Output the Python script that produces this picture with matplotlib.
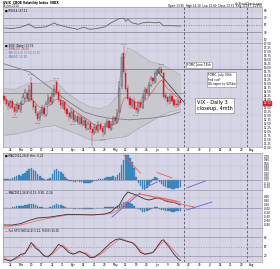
import numpy as np
import pandas as pd
import matplotlib
matplotlib.use("Agg")
import matplotlib.pyplot as plt

# ---------------- data ----------------
opens = [14.20, 14.00, 13.75, 13.50, 13.85, 13.50, 13.25, 13.65, 13.30, 13.70,
         14.05, 14.40, 13.95, 15.00, 13.90, 13.55, 13.10, 12.80, 13.10, 13.45,
         13.00, 13.75, 14.10, 13.75, 14.25, 15.05, 14.45, 13.95, 13.55, 13.80,
         13.35, 13.10, 12.85, 13.25, 12.65, 12.95, 12.50, 12.85, 12.40, 12.70,
         12.15, 12.50, 12.15, 11.90, 12.30, 12.00, 12.45, 12.20, 11.90, 12.35,
         12.60, 12.15, 12.50, 12.85, 12.55, 13.20, 14.80, 16.85, 15.60, 14.70,
         14.05, 13.55, 13.90, 13.45, 13.25, 13.80, 13.45, 14.05, 14.60, 14.30,
         14.85, 15.30, 15.05, 15.55, 15.70, 15.90, 15.60, 14.25, 14.10, 13.85,
         14.20, 13.95, 13.70, 13.60, 13.95]
highs = [14.45, 14.10, 13.90, 13.95, 14.00, 13.60, 13.80, 13.75, 13.90, 14.30,
         14.60, 14.50, 14.85, 15.40, 14.05, 13.70, 13.25, 13.30, 13.60, 13.55,
         13.90, 14.30, 14.20, 14.50, 14.90, 15.20, 14.55, 14.10, 13.95, 13.90,
         13.50, 13.20, 13.45, 13.35, 13.05, 13.10, 13.00, 12.95, 12.85, 12.80,
         12.65, 12.60, 12.30, 12.45, 12.40, 12.60, 12.55, 12.30, 12.50, 12.75,
         12.70, 12.65, 12.95, 12.95, 13.35, 15.10, 16.90, 17.30, 15.80, 14.85,
         14.20, 14.00, 14.10, 13.60, 13.90, 13.95, 14.30, 14.75, 14.70, 15.05,
         15.45, 15.40, 15.75, 15.90, 16.00, 16.05, 15.70, 14.45, 14.20, 14.30,
         14.30, 14.05, 14.00, 14.05, 14.10]
lows = [13.70, 13.55, 13.30, 13.35, 13.30, 12.95, 13.15, 13.20, 13.15, 13.60,
        13.90, 13.85, 13.80, 13.80, 13.30, 12.95, 12.55, 12.60, 12.95, 12.90,
        12.85, 13.60, 13.65, 13.60, 14.10, 14.25, 13.80, 13.40, 13.40, 13.15,
        12.90, 12.60, 12.75, 12.50, 12.55, 12.40, 12.35, 12.25, 12.30, 12.00,
        12.05, 11.90, 11.05, 11.75, 11.85, 11.85, 12.00, 11.60, 11.75, 12.20,
        12.05, 12.00, 12.35, 12.40, 12.45, 13.10, 14.60, 15.55, 14.45, 13.85,
        13.40, 13.45, 13.30, 13.10, 13.05, 13.35, 13.35, 13.95, 14.20, 14.20,
        14.75, 14.95, 14.95, 15.45, 15.60, 15.55, 14.00, 13.90, 13.65, 13.70,
        13.75, 13.50, 13.45, 13.50, 13.60]
closes = [13.95, 13.70, 13.55, 13.80, 13.45, 13.20, 13.60, 13.35, 13.75, 14.10,
          14.35, 14.00, 14.55, 13.95, 13.50, 13.10, 12.75, 13.15, 13.40, 13.05,
          13.70, 14.05, 13.80, 14.30, 14.65, 14.40, 13.95, 13.60, 13.75, 13.30,
          13.05, 12.85, 13.20, 12.70, 12.90, 12.55, 12.80, 12.45, 12.65, 12.20,
          12.45, 12.10, 11.85, 12.25, 12.05, 12.40, 12.15, 11.95, 12.30, 12.55,
          12.20, 12.45, 12.80, 12.60, 13.10, 14.70, 16.60, 15.70, 14.60, 14.00,
          13.60, 13.85, 13.40, 13.30, 13.75, 13.50, 14.10, 14.55, 14.35, 14.90,
          15.25, 15.10, 15.60, 15.75, 15.85, 15.65, 14.15, 14.05, 13.80, 14.15,
          13.90, 13.65, 13.60, 13.90, 13.72]

bb_idx = [0, 5, 12, 17, 24, 29, 35, 41, 46, 50, 54, 56, 59, 62, 70, 74, 79, 84]
bb_upper = [14.65, 14.60, 15.00, 14.96, 15.20, 14.50, 13.90, 13.50, 13.40, 13.60,
            14.20, 16.00, 17.20, 17.00, 16.30, 16.20, 15.90, 15.50]
bb_lower = [11.74, 11.80, 12.00, 12.20, 12.35, 12.10, 11.80, 11.45, 11.40, 11.50,
            11.60, 11.60, 11.70, 12.00, 12.60, 12.90, 13.20, 13.35]

ma50_idx = [0, 12, 20, 30, 38, 44, 50, 60, 70, 78, 84]
ma50 = [16.20, 15.70, 14.90, 13.90, 13.20, 12.95, 12.80, 12.70, 12.80, 12.95, 13.20]

red_level = 15.90
blue_level = 14.35
trend_x = [72.9, 86.2]
trend_y = [15.77, 13.72]

rsi_idx = [0, 4, 8, 12, 13, 15, 20, 24, 25, 30, 35, 38, 41, 45, 48, 51, 55, 57,
           58, 59, 61, 64, 66, 69, 72, 74, 76, 80, 84]
rsi = [42, 40, 44, 53, 48, 42, 45, 56, 52, 44, 38, 44, 38, 41, 45, 56, 68, 69,
       60, 66, 56, 52, 56, 58, 56, 58, 48, 48, 47]

hist1 = [0.02, 0.03, 0.02, 0.04, 0.06, 0.09, 0.12, 0.15, 0.12, 0.18,
         0.21, 0.27, 0.33, 0.36, 0.30, 0.27, 0.18, 0.12, 0.06, 0.02,
         0.01, 0.03, 0.06, 0.18, 0.30, 0.33, 0.27, 0.24, 0.18, 0.09,
         0.03, -0.02, -0.03, -0.05, -0.06, -0.04, -0.05, -0.06, -0.09, -0.10,
         -0.09, -0.09, -0.06, -0.04, -0.02, 0.02, 0.03, 0.04, 0.06, 0.08,
         0.09, 0.10, 0.12, 0.10, 0.14, 0.21, 0.45, 0.60, 0.74, 0.74,
         0.66, 0.54, 0.36, 0.10, -0.09, -0.18, -0.27, -0.30, -0.24, -0.15,
         -0.06, 0.03, 0.09, 0.05, -0.06, -0.12, -0.18, -0.21, -0.24, -0.24,
         -0.27, -0.27, -0.24, -0.24, -0.21]
hist2 = [0.02, 0.02, 0.02, 0.02, 0.04, 0.06, 0.08, 0.10, 0.09, 0.12,
         0.14, 0.17, 0.20, 0.22, 0.19, 0.16, 0.11, 0.07, 0.04, 0.01,
         0.01, 0.02, 0.04, 0.10, 0.17, 0.19, 0.16, 0.14, 0.10, 0.05,
         0.02, -0.01, -0.02, -0.03, -0.03, -0.02, -0.03, -0.04, -0.05, -0.06,
         -0.05, -0.05, -0.04, -0.02, -0.01, 0.01, 0.02, 0.02, 0.03, 0.04,
         0.05, 0.06, 0.07, 0.06, 0.08, 0.12, 0.22, 0.28, 0.32, 0.30,
         0.25, 0.18, 0.10, 0.02, -0.06, -0.12, -0.18, -0.20, -0.16, -0.10,
         -0.04, 0.02, 0.06, 0.04, -0.04, -0.08, -0.12, -0.14, -0.16, -0.16,
         -0.18, -0.18, -0.16, -0.16, -0.14]

macd_idx = [0, 4, 8, 12, 16, 22, 30, 36, 42, 48, 51, 53, 55, 57, 59, 61, 63, 65,
            67, 69, 71, 73, 75, 77, 79, 81, 84]
macd = [-0.85, -0.85, -0.78, -0.62, -0.50, -0.45, -0.32, -0.33, -0.35, -0.30,
        -0.20, 0.00, 0.15, 0.55, 0.80, 0.72, 0.65, 0.55, 0.45, 0.40, 0.45, 0.50,
        0.45, 0.35, 0.30, 0.28, 0.15]
sig_idx = [0, 8, 17, 30, 45, 51, 55, 57, 60, 62, 65, 70, 75, 80, 84]
sig = [-0.95, -0.85, -0.60, -0.35, -0.33, -0.28, -0.05, 0.15, 0.45, 0.62, 0.70,
       0.60, 0.50, 0.40, 0.30]

stk_idx = [0, 3, 6, 8, 10, 13, 15, 17, 19, 21, 23, 26, 28, 31, 33, 36, 39, 41,
           43, 46, 48, 51, 53, 55, 57, 59, 61, 63, 65, 67, 69, 71, 73, 75, 76,
           77, 79, 81, 83, 84]
stk_k = [9, 3, 15, 25, 28, 63, 45, 35, 20, 16, 30, 57, 50, 30, 25, 35, 25, 14,
         16, 30, 44, 63, 72, 75, 70, 66, 63, 50, 31, 25, 28, 31, 50, 69, 72,
         62, 45, 25, 10, 5]
std_idx = [0, 3, 6, 9, 12, 14, 16, 18, 20, 23, 26, 28, 30, 33, 36, 39, 41, 43,
           46, 49, 52, 54, 56, 58, 60, 62, 64, 66, 68, 70, 72, 74, 76, 78, 80,
           82, 84]
stk_d = [15, 5, 10, 22, 45, 58, 45, 28, 18, 25, 45, 55, 42, 27, 30, 30, 20, 14,
         25, 42, 58, 70, 75, 70, 65, 60, 45, 30, 25, 28, 38, 55, 66, 60, 45,
         28, 15]

# hand drawn annotation lines (index, value)
p1_red = [([57, 65], [0.74, 0.20]), ([73, 80], [0.22, 0.06])]
p1_blue = [([67, 73], [-0.24, -0.06]), ([87, 96], [-0.24, -0.03])]
p2_red = [([65, 90], [0.70, 0.05]), ([73, 83], [0.55, 0.30])]
p2_blue = [([51.4, 64.8], [-0.45, 0.75]), ([87, 99], [-0.10, 0.30])]

fomc_days = [85.7, 115.7]
start_date = "2014-02-19"
n_slots = 123

# ---------------- styling ----------------
BG = "#d5d5e6"
GRID = "#c3c3d6"
RED = "#d9202c"
BLUE = "#3b8fc6"
W, H = 280, 269

fig = plt.figure(figsize=(W / 100, H / 100), dpi=100)
fig.patch.set_facecolor("white")


def rect(x0, y0, x1, y1):
    return [x0 / W, 1 - y1 / H, (x1 - x0) / W, (y1 - y0) / H]


dates = pd.bdate_range(start_date, periods=n_slots)
tick_pos = [i for i, d in enumerate(dates) if d.weekday() == 0]
tick_lab = [d.strftime("%b") if d.day <= 7 else str(d.day)
            for d in dates if d.weekday() == 0]
xlim = (-0.5, 122.9)
n = len(closes)
x = np.arange(n)


def style(ax, yticks, fmt, grid_y, show_dates=False):
    ax.set_facecolor(BG)
    ax.set_xlim(*xlim)
    ax.set_xticks(tick_pos)
    ax.set_yticks(yticks)
    ax.yaxis.tick_right()
    ax.set_yticklabels([fmt % v for v in yticks])
    ax.grid(True, axis="x", color=GRID, lw=0.35)
    for g in grid_y:
        ax.axhline(g, color=GRID, lw=0.35, zorder=0)
    ax.set_axisbelow(True)
    ax.tick_params(length=0, labelsize=2.0, pad=1)
    if show_dates:
        ax.set_xticklabels(tick_lab, fontsize=2.0)
        ax.tick_params(axis="x", pad=0.6)
    else:
        ax.set_xticklabels([])
    for s in ax.spines.values():
        s.set_color("#8a8a9a")
        s.set_linewidth(0.4)
    for d in fomc_days:
        ax.axvline(d, color="#555560", lw=0.6, ls=(0, (3, 2)))


# ---- RSI panel ----
ax0 = fig.add_axes(rect(3, 7, 262, 43))
ax0.set_ylim(0, 100)
style(ax0, [10, 30, 50, 70, 90], "%d", [10, 90])
ax0.axhline(70, color="#777788", lw=0.45)
ax0.axhline(30, color="#777788", lw=0.45)
ax0.axhline(50, color="#777788", lw=0.45, ls=(0, (2, 2)))
ax0.plot(rsi_idx, rsi, color="#666666", lw=0.6)
ax0.text(0.3, 96, "\u25a0 RSI(14) 47.12", fontsize=2.0, va="top")

# ---- price panel ----
ax1 = fig.add_axes(rect(3, 43, 262, 147))
ax1.set_ylim(11.0, 17.5)
style(ax1, np.arange(11.0, 17.51, 0.25), "%.2f", [12, 13, 14, 15, 16, 17],
      show_dates=True)
ax1.fill_between(bb_idx, bb_lower, bb_upper, color="#c7c9ce", lw=0)
ax1.plot(bb_idx, bb_upper, color="#a2a2ae", lw=0.4)
ax1.plot(bb_idx, bb_lower, color="#a2a2ae", lw=0.4)
ax1.plot(ma50_idx, ma50, color="#7d7d85", lw=0.6)
ax1.axhline(red_level, color="#f05a5a", lw=0.7)
ax1.plot([0, 86], [blue_level, blue_level], color="#7f88b0", lw=0.6)
ema = pd.Series(closes).ewm(span=10, adjust=False).mean()
ax1.plot(x, ema, color="#e05050", lw=0.45)

prev = [opens[0]] + closes[:-1]
for i in range(n):
    col = RED if closes[i] < prev[i] else "#111111"
    ax1.vlines(i, lows[i], highs[i], color=col, lw=0.3, zorder=3)
    lo, hi = sorted([opens[i], closes[i]])
    filled = closes[i] < opens[i]
    ax1.bar(i, max(hi - lo, 0.03), bottom=lo, width=0.55,
            color=col if filled else BG, edgecolor=col, lw=0.25, zorder=4)

for i in [13, 25, 57, 75]:
    ax1.text(i, highs[i] + 0.08, "%.2f" % highs[i], fontsize=1.6,
             ha="center", va="bottom", color="#505050")
for i in [5, 16, 33, 42, 47, 63]:
    ax1.text(i, lows[i] - 0.08, "%.2f" % lows[i], fontsize=1.6,
             ha="center", va="top", color="#505050")

ax1.plot(trend_x, trend_y, color="#333333", lw=0.5)
ax1.text(0.3, 17.45, "\u25a0 $VIX (Daily) %.2f" % closes[-1], fontsize=2.0, va="top")
ax1.text(0.3, 17.22, "\u2014 EMA(10) %.2f" % ema.iloc[-1], fontsize=2.0,
         va="top", color=RED)
ax1.text(0.3, 16.99, "\u2014 BB(20,2.0) 15.50 13.35", fontsize=2.0,
         va="top", color="#777788")
ax1.text(0.3, 16.76, "\u2014 MA(50) 13.20", fontsize=2.0, va="top", color="#5a6aa0")

box = dict(boxstyle="square,pad=0.3", fc="white", ec="#888888", lw=0.4)
ax1.text(87.3, 16.14, "FOMC June 18th", fontsize=2.2, va="center", bbox=box)
ax1.text(97.0, 15.65, "FOMC, July 30th\nFed cut?\nQE-taper to $25bn", fontsize=2.2,
         va="top", linespacing=1.3, bbox=box)
ax1.text(91.8, 13.95, "VIX - Daily 3\ncloseup, 4mth", fontsize=3.6, va="top",
         linespacing=1.2,
         bbox=dict(boxstyle="square,pad=0.4", fc="white", ec="#777777", lw=0.4))
ax1.text(1.005, (closes[-1] - 11.0) / 6.5, "%.2f" % closes[-1], transform=ax1.transAxes,
         fontsize=2.0, color="white", va="center",
         bbox=dict(boxstyle="square,pad=0.15", fc=RED, ec=RED, lw=0.3))

# ---- histogram panel ----
ax2 = fig.add_axes(rect(3, 153, 262, 190))
ax2.set_ylim(-0.3, 0.8)
style(ax2, np.arange(-0.2, 0.71, 0.1), "%.2f", [0.4])
ax2.bar(x, hist1, width=0.75, color=BLUE, edgecolor="#2a6f9f", lw=0.2)
ax2.axhline(0, color="#8080a0", lw=0.4)
for xs, ys in p1_red:
    ax2.plot(xs, ys, color="#f06060", lw=0.6)
for xs, ys in p1_blue:
    ax2.plot(xs, ys, color="#6a5de0", lw=0.6)
ax2.text(0.3, 0.78, "\u25a0 MACD(12,26,9) Hist -0.21", fontsize=2.0, va="top")

# ---- MACD panel ----
ax3 = fig.add_axes(rect(3, 190, 262, 228))
ax3.set_ylim(-1.0, 0.9)
style(ax3, np.arange(-0.8, 0.61, 0.2), "%.2f", [-0.5, 0.5])
ax3.bar(x, hist2, width=0.75, color=BLUE, edgecolor="#2a6f9f", lw=0.2)
ax3.axhline(0, color="#8080a0", lw=0.4)
ax3.plot(sig_idx, sig, color="#f07070", lw=0.6)
ax3.plot(macd_idx, macd, color="#333333", lw=0.6)
for xs, ys in p2_red:
    ax3.plot(xs, ys, color="#f06060", lw=0.6)
ax3.plot(90, 0.05, "o", ms=1.5, mfc="none", mec="#f06060", mew=0.4)
for xs, ys in p2_blue:
    ax3.plot(xs, ys, color="#6a5de0", lw=0.6)
ax3.text(0.3, 0.87, "\u2014 MACD(12,26,9) 0.15, 0.30, -0.14", fontsize=2.0, va="top")

# ---- stochastics panel ----
ax4 = fig.add_axes(rect(3, 228, 262, 262))
ax4.set_ylim(0, 110)
style(ax4, [20, 50, 80], "%d", [], show_dates=True)
ax4.axhline(80, color="#8a8aa0", lw=0.45)
ax4.axhline(20, color="#8a8aa0", lw=0.45)
ax4.axhline(50, color="#8a8aa0", lw=0.45, ls=(0, (2, 2)))
ax4.plot(std_idx, stk_d, color="#f07070", lw=0.6)
ax4.plot(stk_idx, stk_k, color="#333333", lw=0.6)
ax4.text(0.3, 107, "\u2014 Full STO %K(14,3) 5.12, %D(3) 15.05", fontsize=2.0, va="top")

# ---- header ----
fig.text(3 / W, 1 - 1 / H, "$VIX  CBOE Volatility Index  INDX", fontsize=2.2,
         va="top", weight="bold")
fig.text(3 / W, 1 - 4.2 / H, "16-Jun-2014", fontsize=2.0, va="top")
fig.text(262 / W, 1 - 1 / H, "@ StockCharts.com", fontsize=2.0, va="top", ha="right")
fig.text(262 / W, 1 - 4.2 / H,
         "Open 13.95  High 14.10  Low 13.60  Close 13.72  Chg -0.18 (-1.29%)",
         fontsize=2.0, va="top", ha="right")

fig.savefig("out.png", dpi=100)
